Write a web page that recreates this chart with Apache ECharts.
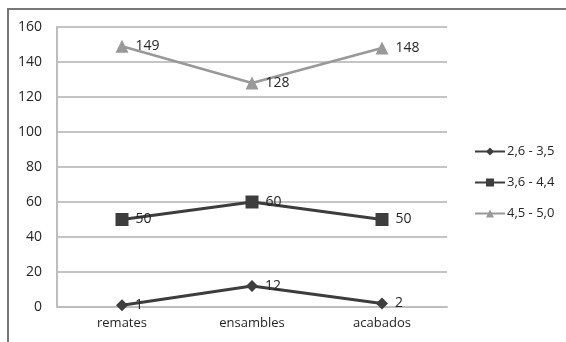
<!DOCTYPE html>
<html>
<head>
<meta charset="utf-8">
<script src="https://cdn.jsdelivr.net/npm/echarts@6/dist/echarts.min.js"></script>
<style>
  html, body { margin: 0; padding: 0; background: #fff; }
  #chart { width: 566px; height: 342px; }
</style>
</head>
<body>
<div id="chart"></div>
<script>
const categories = ['remates', 'ensambles', 'acabados'];
const seriesNames = ['2,6 - 3,5', '3,6 - 4,4', '4,5 - 5,0'];
const low = [1, 12, 2];
const mid = [50, 60, 50];
const high = [149, 128, 148];
const yTicks = { min: 0, max: 160, interval: 20 };

const font = '"Open Sans", sans-serif';
const textColor = '#262626';
const dark = '#3d3d3d';
const light = '#999999';

function lineSeries(name, data, color, symbol, size) {
  return {
    name: name,
    type: 'line',
    data: data,
    symbol: symbol,
    symbolSize: size,
    lineStyle: { color: color, width: 2.8 },
    itemStyle: { color: color },
    label: {
      show: true,
      position: 'right',
      distance: 7,
      color: textColor,
      fontFamily: font,
      fontSize: 14
    },
    z: 3
  };
}

const chart = echarts.init(document.getElementById('chart'), null, { renderer: 'canvas' });
chart.setOption({
  animation: false,
  backgroundColor: '#fff',
  graphic: [{
    type: 'rect',
    shape: { x: 8, y: 9, width: 700, height: 500 },
    style: { fill: 'none', stroke: '#777', lineWidth: 2 },
    z: -1
  }],
  grid: { left: 57, right: 119, top: 27, bottom: 35 },
  xAxis: {
    type: 'category',
    data: categories,
    boundaryGap: true,
    axisLine: { lineStyle: { color: '#bdbdbd', width: 2 } },
    axisTick: { show: false },
    axisLabel: { color: textColor, fontFamily: font, fontSize: 13, margin: 10 }
  },
  yAxis: {
    type: 'value',
    min: yTicks.min,
    max: yTicks.max,
    interval: yTicks.interval,
    axisLine: { show: true, lineStyle: { color: '#bdbdbd', width: 2 } },
    axisTick: { show: false },
    axisLabel: { color: textColor, fontFamily: font, fontSize: 14, margin: 15 },
    splitLine: { lineStyle: { color: '#c4c4c4', width: 2 } }
  },
  legend: {
    orient: 'vertical',
    left: 469,
    top: 140,
    itemWidth: 30,
    itemHeight: 10,
    itemGap: 18,
    textStyle: { color: textColor, fontFamily: font, fontSize: 13, padding: [0, 0, 0, -3] },
    data: seriesNames
  },
  series: [
    lineSeries(seriesNames[0], low, dark, 'diamond', 12),
    lineSeries(seriesNames[1], mid, dark, 'rect', 13),
    lineSeries(seriesNames[2], high, light, 'triangle', 13)
  ]
});
</script>
</body>
</html>
